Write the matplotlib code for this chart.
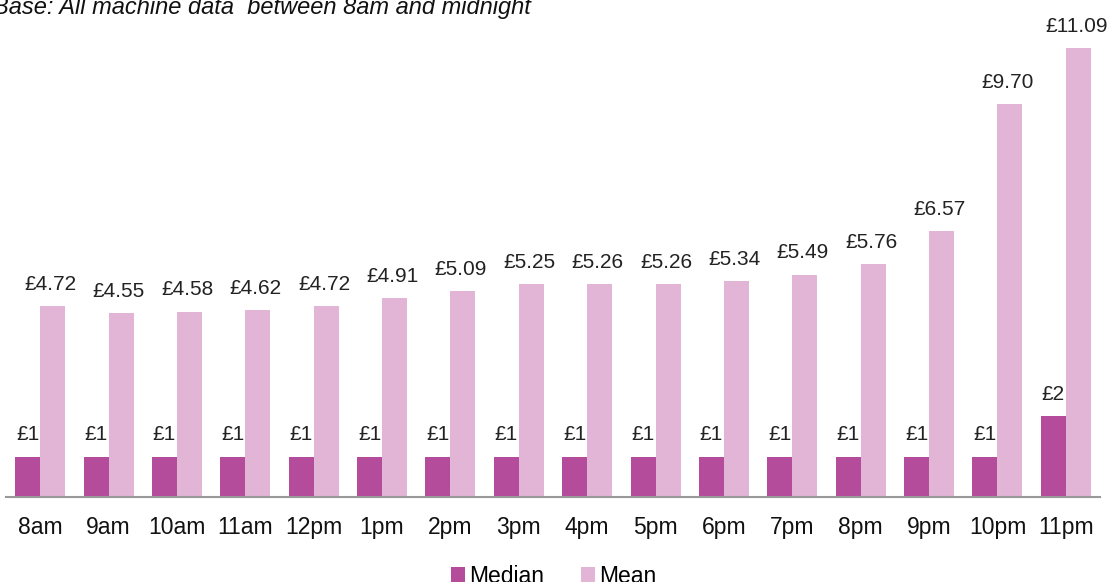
import matplotlib.pyplot as plt
import numpy as np

plt.rcParams['font.family'] = ['Liberation Sans', 'DejaVu Sans']

# data
hours = ['8am', '9am', '10am', '11am', '12pm', '1pm', '2pm', '3pm',
         '4pm', '5pm', '6pm', '7pm', '8pm', '9pm', '10pm', '11pm']
median = [1, 1, 1, 1, 1, 1, 1, 1, 1, 1, 1, 1, 1, 1, 1, 2]
mean = [4.72, 4.55, 4.58, 4.62, 4.72, 4.91, 5.09, 5.25,
        5.26, 5.26, 5.34, 5.49, 5.76, 6.57, 9.70, 11.09]

median_col = '#B44B9B'
mean_col = '#E2B4D6'

fig = plt.figure(figsize=(11.08, 5.82), dpi=100)
ax = fig.add_axes([0.0054, 0.146, 0.9874, 0.854])

x = np.arange(len(hours))
w = 0.365
b1 = ax.bar(x - w / 2, median, w, color=median_col, label='Median')
b2 = ax.bar(x + w / 2, mean, w, color=mean_col, label='Mean')

for rect, v in zip(b1, median):
    ax.text(rect.get_x() + rect.get_width() / 2, v + 0.3, f'£{v}',
            ha='center', va='bottom', fontsize=15, color='#222222')
for rect, v in zip(b2, mean):
    ax.text(rect.get_x() + rect.get_width() / 2 - 0.03, v + 0.3, f'£{v:.2f}',
            ha='center', va='bottom', fontsize=15, color='#222222')

ax.set_xlim(-0.5, 15.5)
ax.set_ylim(0, 12.27)
ax.set_xticks(x)
ax.set_xticklabels(hours, fontsize=16.5, color='#111111')
ax.tick_params(axis='x', length=0, pad=14)
ax.set_yticks([])
for s in ['top', 'left', 'right']:
    ax.spines[s].set_visible(False)
ax.spines['bottom'].set_color('#999999')
ax.spines['bottom'].set_linewidth(1.5)

fig.legend(loc='lower center', bbox_to_anchor=(0.5, -0.045), ncol=2,
           frameon=False, fontsize=16.5, handlelength=0.6, handleheight=0.6,
           handletextpad=0.2, columnspacing=1.6)

fig.text(-0.006, 1 - 14 / 582, 'Base: All machine data  between 8am and midnight',
         ha='left', va='baseline', fontsize=17, style='italic', color='#111111')

fig.savefig('out.png', dpi=100)
